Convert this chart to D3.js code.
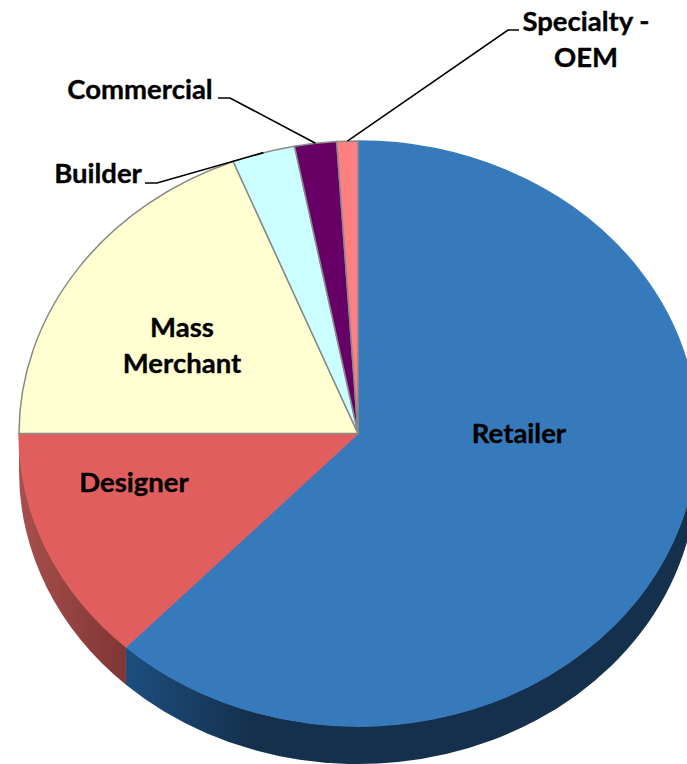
<!DOCTYPE html>
<html>
<head>
<meta charset="utf-8">
<script src="https://cdn.jsdelivr.net/npm/d3@7"></script>
<style>
  body { margin: 0; background: #fff; }
  text { font-family: Lato, "Open Sans", sans-serif; font-weight: 700; font-size: 27.5px; fill: #000; stroke: #000; stroke-width: 0.35; }
</style>
</head>
<body>
<svg width="687" height="764"></svg>
<script>
// values in percent, clockwise from 12 o'clock
var categories = ["Retailer", "Designer", "Mass Merchant", "Builder", "Commercial", "Specialty - OEM"];
var shares = [62, 13, 19, 3, 2, 1];
var colors = ["#377abb", "#e05f5e", "#ffffd1", "#ccffff", "#660066", "#ff8080"];
var wallFrom = ["#1c4e7e", "#a84f4d"];
var wallTo = ["#14304d", "#7e3634"];

var cx = 358, cy = 433.5, rx = 339, ry = 292.5, depth = 38;
var squash = ry / rx;

var svg = d3.select("svg");
var defs = svg.append("defs");

var pie = d3.pie().sort(null).value(function(d) { return d; });
var slices = pie(shares);
var arc = d3.arc().innerRadius(0).outerRadius(rx);

var g = svg.append("g")
    .attr("transform", "translate(" + cx + "," + cy + ") scale(1," + squash + ")");

// side wall, only the front half of the disc shows
function wallPath(d) {
  var a0 = Math.max(d.startAngle, Math.PI / 2) - Math.PI / 2,
      a1 = Math.min(d.endAngle, 3 * Math.PI / 2) - Math.PI / 2,
      dy = depth / squash,
      p = d3.path();
  p.arc(0, 0, rx, a0, a1);
  p.arc(0, dy, rx, a1, a0, true);
  p.closePath();
  return p.toString();
}

var walls = slices.slice(0, 2);
walls.forEach(function(d, i) {
  var grad = defs.append("linearGradient").attr("id", "wall" + i);
  grad.append("stop").attr("offset", 0).attr("stop-color", wallFrom[i]);
  grad.append("stop").attr("offset", i == 0 ? 0.22 : 1).attr("stop-color", wallTo[i]);
});

g.selectAll(".wall")
    .data(walls)
    .enter().append("path")
      .attr("class", "wall")
      .attr("d", wallPath)
      .attr("fill", function(d, i) { return "url(#wall" + i + ")"; });

g.selectAll(".slice")
    .data(slices)
    .enter().append("path")
      .attr("class", "slice")
      .attr("d", arc)
      .attr("fill", function(d, i) { return colors[i]; })
      .attr("stroke", "#8a8a8a")
      .attr("stroke-width", 1.5)
      .attr("vector-effect", "non-scaling-stroke");

// blue and red have no visible outline in the original
g.selectAll(".slice")
    .filter(function(d, i) { return i < 2; })
    .attr("stroke", function(d, i) { return colors[i]; });

// point on the rim in the middle of a slice
function rim(d) {
  var a = (d.startAngle + d.endAngle) / 2;
  return [cx + rx * Math.sin(a), cy - ry * Math.cos(a)];
}

// leader lines for the three small slices
var leaders = [
  {slice: 3, x0: 145, x1: 157, y: 183},
  {slice: 4, x0: 218, x1: 230, y: 98},
  {slice: 5, x0: 519, x1: 508, y: 30}
];
svg.selectAll(".leader")
    .data(leaders)
    .enter().append("path")
      .attr("class", "leader")
      .attr("fill", "none")
      .attr("stroke", "#000")
      .attr("stroke-width", 1.6)
      .attr("d", function(d) {
        return d3.line()([[d.x0, d.y], [d.x1, d.y], rim(slices[d.slice])]);
      });

var labels = [
  {text: "Retailer", x: 519, y: 443},
  {text: "Designer", x: 134, y: 492},
  {text: "Mass", x: 182, y: 337},
  {text: "Merchant", x: 182, y: 373},
  {text: "Builder", x: 98, y: 183},
  {text: "Commercial", x: 140, y: 99},
  {text: "Specialty -", x: 586, y: 31},
  {text: "OEM", x: 586, y: 67}
];
svg.selectAll(".label")
    .data(labels)
    .enter().append("text")
      .attr("class", "label")
      .attr("x", function(d) { return d.x; })
      .attr("y", function(d) { return d.y; })
      .attr("text-anchor", "middle")
      .text(function(d) { return d.text; });
</script>
</body>
</html>
